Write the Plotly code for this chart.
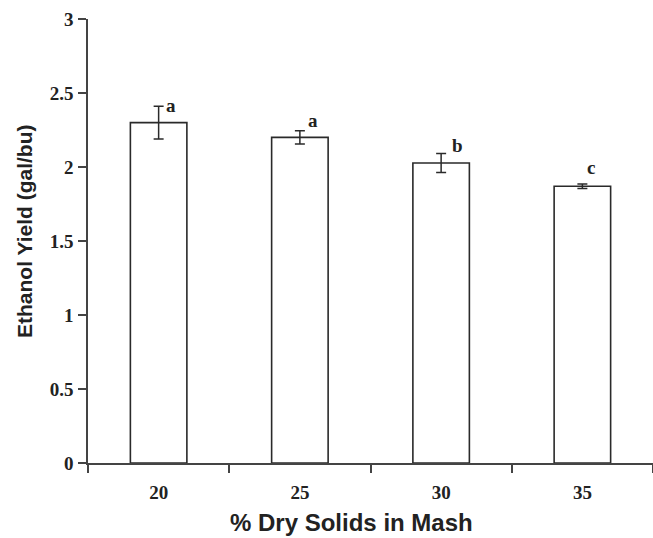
import plotly.graph_objects as go

categories = ["20", "25", "30", "35"]
yield_vals = [2.30, 2.20, 2.027, 1.87]
yield_err = [0.11, 0.045, 0.065, 0.015]
letters = ["a", "a", "b", "c"]
letter_xshift = [5, 6, 9, 3]
letter_yshift = [-12, -2, -5, 4]

fig = go.Figure()
fig.add_trace(go.Bar(
    x=categories, y=yield_vals,
    width=0.4,
    marker=dict(color="white", line=dict(color="#2a2a2a", width=1.6)),
    error_y=dict(type="data", array=yield_err, visible=True,
                 color="#2a2a2a", thickness=1.5, width=5),
    showlegend=False,
))

for i, (c, v, e, l) in enumerate(zip(categories, yield_vals, yield_err, letters)):
    fig.add_annotation(
        x=i, y=v + e, xref="x", yref="y", text=f"<b>{l}</b>",
        showarrow=False, xanchor="left", yanchor="bottom",
        xshift=letter_xshift[i], yshift=letter_yshift[i],
        font=dict(family="Liberation Serif", size=19, color="#222"),
    )

# Axis titles (placed as annotations to match the original's offsets)
fig.add_annotation(
    x=0.4655, y=-0.1351, xref="paper", yref="paper",
    text="<b>% Dry Solids in Mash</b>", showarrow=False,
    xanchor="center", yanchor="middle",
    font=dict(family="Liberation Sans", size=24, color="#222"),
)
fig.add_annotation(
    x=-0.1133, y=0.5225, xref="paper", yref="paper",
    text="<b>Ethanol Yield (gal/bu)</b>", showarrow=False, textangle=-90,
    xanchor="center", yanchor="middle",
    font=dict(family="Liberation Sans", size=21, color="#222"),
)

fig.update_layout(
    width=653, height=538,
    margin=dict(l=88, r=0, t=19, b=75),
    paper_bgcolor="white", plot_bgcolor="white",
    xaxis=dict(
        type="category", range=[-0.5, 3.5], tickson="boundaries",
        ticks="outside", ticklen=8, tickwidth=1.5, tickcolor="#444",
        showline=True, linecolor="#444", linewidth=1.5,
        showgrid=False, zeroline=False,
        ticklabelstandoff=11,
        tickvals=categories, ticktext=[f"<b>{c}</b>" for c in categories],
        tickfont=dict(family="Liberation Serif", size=19, color="#222"),
    ),
    yaxis=dict(
        range=[0, 3], tickvals=[0, 0.5, 1, 1.5, 2, 2.5, 3],
        ticktext=["<b>0</b>", "<b>0.5</b>", "<b>1</b>", "<b>1.5</b>", "<b>2</b>", "<b>2.5</b>", "<b>3</b>"],
        ticks="outside", ticklen=8, tickwidth=1.5, tickcolor="#444",
        showline=True, linecolor="#444", linewidth=1.5,
        showgrid=False, zeroline=False,
        ticklabelstandoff=1,
        tickfont=dict(family="Liberation Serif", size=19, color="#222"),
    ),
)

fig.write_html("out.html")
